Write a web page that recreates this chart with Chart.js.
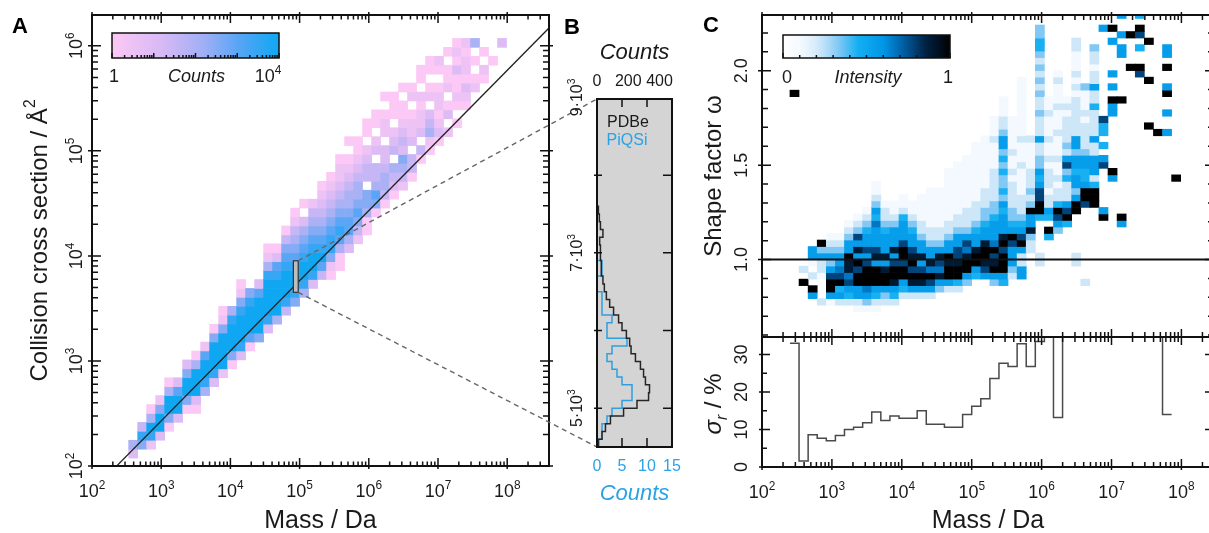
<!DOCTYPE html>
<html>
<head>
<meta charset="utf-8">
<script src="https://cdn.jsdelivr.net/npm/chart.js@4.4.0/dist/chart.umd.min.js"></script>
<style>
  html, body { margin: 0; padding: 0; background: #fff; width: 1209px; height: 533px; overflow: hidden; }
  canvas { position: absolute; left: 0; top: 0; }
</style>
</head>
<body>
<canvas id="chartA" width="1220" height="533"></canvas>
<canvas id="chartB" width="1220" height="533"></canvas>
<canvas id="chartC" width="1220" height="533"></canvas>
<canvas id="chartD" width="1220" height="533"></canvas>
<script>
// ---- Panel A: 2D histogram, log10(CCS / A^2) against log10(mass / Da) ----
var aMassStart = 2.40, aMassStep = 0.13;
var aCcsStart = 1.99, aCcsStep = 0.085;
// first row of each mass column, then count level per row (1 = 1 count ... 9 = 10^4)
var aRowStart = [0,1,2,2,3,4,5,6,6,8,9,10,11,12,13,14,15,16,17,18,19,20,21,21,22,24,25,26,28,29,30,31,32,34,35,36,37,38,40,42,43,45,47];
var aLevels = ['', '35', '684', '28951', '39962', '169951', '39973', '169963', '1399951', '589972',
  '3899961', '29999621', '1699985', '389998621', '1799986', '6999973', '3899998521', '599998731',
  '4899987641', '68998765421', '589987653.1', '3899876542', '47987654321', '126887654321',
  '1157876543221', '35776554321.1', '246765543211', '11566.4432.11', '167544.32.11', '1455433.221.1',
  '1345.432.111', '2456343211.1', '144.3221.21', '14.32212.11', '12543.21.11', '1321221.12',
  '2.31.211.1', '1.12113121', '12312212', '21.1.5', '12.1', '1', '3'];
var fitMassA = [2, 9];
var fitCcsA = [1.762, 6.434];
var zoomMass = [4.91, 4.98];
var zoomCcs = [4500, 8980];

// ---- Panel B: histograms of CCS inside the zoom box ----
var bCcsStart = 4500, bCcsStep = 100;
var pdbeCounts = [10,32,54,86,170,256,330,336,310,298,278,246,218,209,188,160,138,106,81,60,
  47,38,30,26,22,22,17,38,22,15,9,6,5,4,2,2,2,1,1,1,0,0,0,0,0];
var piqsiCounts = [0,1,1,2,3,5,7,7,5,4,3,2,3,6,2,2,3,1,1,1,0,0,1,1,0,0,0,0,0,0,
  0,0,0,0,0,0,0,0,0,0,0,0,0,0,0];
var bCountTicks = [0, 200, 400];
var bBlueTicks = [0, 5, 10, 15];

// ---- Panel C: shape factor map and relative spread ----
var cMassStart = 2.40, cMassStep = 0.13;
var cOmegaStart = 0.586, cOmegaStep = 0.0345;
var cRowStart = [37,8,6,5,5,5,5,4,4,4,5,5,6,6,6,6,7,7,7,8,9,9,8,8,9,9,13,11,15,16,17,11,8,20,18,24,17,41,40,32,31,31,24];
var cLevels = ['9', '9.2', '59.2.155', '2...122539', '15997535321', '25497655321', '2457688955321',
  '125599795857321', '1356999757554321', '12459995875556453211', '2359985855543221',
  '2458997585553211', '2459979975554211', '258979875543211', '2589758553221111',
  '25796855322111111', '3586785322111111', '2599895532211111111', '24998775532211111111',
  '35998675322211111111', '459985543222111111111', '5789985543322211111111',
  '35987965554332222211112111', '45999798555453433434355322111', '2355579543322221211211111',
  '5522597543222111121112111111111', '223855932322211112', '22.....499775453322522232232323234433',
  '49.4522122212112111211', '3579422121121112111211121', '49752224375232222121',
  '22......995355455355222222121211122', '2...........7995445532222121113',
  '9994255522522224225221223', '95......75.4.447.............5', '59........559.5.5....5.9',
  '59.................9......55.5..5', '9....9', '79..4.79.4', '9......9.....9', '9',
  '5..5..95..9.55', '9'];
var omegaRef = [1, 1];
var sigmaR = [33, 1.6, 8.6, 7.7, 7.0, 8.4, 10.0, 10.6, 11.8, 14.7, 12.4, 13.6, 13.0, 13.0, 15.0,
  11.4, 11.4, 10.6, 10.6, 14.0, 16.2, 18.2, 23.6, 27.7, 26.8, 32.9, 26.8, 33.5, 36, 13.2,
  36, 36, 36, 36, 36, 36, 36, 36, 36, 36, 36, 14.0];
var omegaTicks = [1.0, 1.5, 2.0];
var sigmaTicks = [0, 10, 20, 30];

var FONT = '"Liberation Sans", Arial, Helvetica, sans-serif';
var countsMap = [[0,252,200,245],[0.3,215,185,245],[0.55,160,175,245],[0.75,90,165,245],[1,15,167,242]];
var intensityMap = [[0,255,255,255],[0.111,243,249,254],[0.222,205,231,249],[0.333,130,200,245],
  [0.45,20,175,242],[0.6,0,150,230],[0.72,0,95,165],[0.85,0,35,70],[1,0,0,0]];

function colorAt(stops, t) {
  t = Math.max(0, Math.min(1, t));
  for (var i = 1; i < stops.length; i++) {
    if (t <= stops[i][0]) {
      var a = stops[i - 1], b = stops[i], f = (t - a[0]) / (b[0] - a[0]);
      return 'rgb(' + [1, 2, 3].map(function (j) { return Math.round(a[j] + (b[j] - a[j]) * f); }).join(',') + ')';
    }
  }
  var s = stops[stops.length - 1];
  return 'rgb(' + s[1] + ',' + s[2] + ',' + s[3] + ')';
}

// turn the level strings into floating bars (one per cell)
function cells(rowStart, levels, x0, dx, y0, dy) {
  var out = [];
  levels.forEach(function (str, k) {
    for (var i = 0; i < str.length; i++) {
      if (str[i] === '.') continue;
      var r = rowStart[k] + i;
      out.push({ x: x0 + dx * (k + 0.5), y: [y0 + dy * r, y0 + dy * (r + 1)], lvl: +str[i] });
    }
  });
  return out;
}

function rich(ctx, parts, x, y, o) {
  o = o || {};
  var size = o.size || 17;
  ctx.save();
  ctx.translate(x, y);
  if (o.rot) ctx.rotate(-Math.PI / 2);
  ctx.fillStyle = o.color || '#1a1a1a';
  ctx.textBaseline = 'alphabetic';
  ctx.textAlign = 'left';
  var w = 0;
  var ms = parts.map(function (p) {
    var s = typeof p === 'string' ? [p, 1, 0] : p;
    var style = s[3] || ((o.italic ? 'italic ' : '') + (o.bold ? 'bold ' : ''));
    ctx.font = style + (size * s[1]) + 'px ' + FONT;
    var pw = ctx.measureText(s[0]).width;
    w += pw;
    return [s[0], s[1], s[2], style, pw];
  });
  var cx = o.align === 'left' ? 0 : (o.align === 'right' ? -w : -w / 2);
  ms.forEach(function (p) {
    ctx.font = p[3] + (size * p[1]) + 'px ' + FONT;
    ctx.fillText(p[0], cx, size * 0.36 + size * p[2]);
    cx += p[4];
  });
  ctx.restore();
}
function sup(base, exp) { return [base, [String(exp), 0.66, -0.45]]; }

function logTicks(lo, hi) {
  var major = [], minor = [];
  for (var d = Math.floor(lo); d <= Math.ceil(hi); d++) {
    if (d >= lo && d <= hi) major.push(d);
    for (var m = 2; m <= 9; m++) {
      var v = d + Math.log10(m);
      if (v > lo && v < hi) minor.push(v);
    }
  }
  return { major: major, minor: minor };
}

function ticks(ctx, chart, axis, side, values, lin, lout) {
  var a = chart.chartArea, s = chart.scales[axis];
  ctx.save();
  ctx.strokeStyle = '#111';
  ctx.lineWidth = 1.5;
  ctx.beginPath();
  values.forEach(function (v) {
    var p = s.getPixelForValue(v);
    if (side === 'bottom') { ctx.moveTo(p, a.bottom + lout); ctx.lineTo(p, a.bottom - lin); }
    if (side === 'top') { ctx.moveTo(p, a.top - lout); ctx.lineTo(p, a.top + lin); }
    if (side === 'left') { ctx.moveTo(a.left - lout, p); ctx.lineTo(a.left + lin, p); }
    if (side === 'right') { ctx.moveTo(a.right + lout, p); ctx.lineTo(a.right - lin, p); }
  });
  ctx.stroke();
  ctx.restore();
}

function frame(ctx, a) {
  ctx.save();
  ctx.strokeStyle = '#111';
  ctx.lineWidth = 2;
  ctx.strokeRect(a.left, a.top, a.right - a.left, a.bottom - a.top);
  ctx.restore();
}

function colorbar(ctx, stops, x, y, w, h, tickPos) {
  var g = ctx.createLinearGradient(x, 0, x + w, 0);
  for (var i = 0; i <= 20; i++) g.addColorStop(i / 20, colorAt(stops, i / 20));
  ctx.save();
  ctx.fillStyle = g;
  ctx.fillRect(x, y, w, h);
  ctx.strokeStyle = '#111';
  ctx.lineWidth = 1.5;
  ctx.strokeRect(x, y, w, h);
  ctx.beginPath();
  tickPos.forEach(function (t) {
    var len = t[1] ? 5 : 3;
    ctx.moveTo(x + t[0] * w, y + h);
    ctx.lineTo(x + t[0] * w, y + h - len);
  });
  ctx.stroke();
  ctx.restore();
}

var baseOptions = function (pad) {
  return {
    responsive: false,
    animation: false,
    events: [],
    layout: { padding: pad },
    plugins: { legend: { display: false }, tooltip: { enabled: false } }
  };
};

// ---------------- Panel A ----------------
var decoA = {
  id: 'decoA',
  afterDatasetsDraw: function (chart) {
    var ctx = chart.ctx, a = chart.chartArea, sx = chart.scales.x, sy = chart.scales.y;
    var x0 = sx.getPixelForValue(zoomMass[0]), x1 = sx.getPixelForValue(zoomMass[1]);
    var y0 = sy.getPixelForValue(Math.log10(zoomCcs[0])), y1 = sy.getPixelForValue(Math.log10(zoomCcs[1]));
    ctx.save();
    ctx.fillStyle = '#bdbdbd';
    ctx.fillRect(x0, y1, x1 - x0, y0 - y1);
    ctx.strokeStyle = '#333';
    ctx.lineWidth = 1.2;
    ctx.strokeRect(x0, y1, x1 - x0, y0 - y1);
    ctx.restore();
    var tp = [];
    for (var d = 0; d < 4; d++) for (var m = 1; m <= 9; m++) tp.push([(d + Math.log10(m)) / 4, m === 1]);
    tp.push([1, true]);
    var bx = a.left + 20, by = a.top + 18, bw = 167;
    colorbar(ctx, countsMap, bx, by, bw, 25, tp);
    rich(ctx, ['1'], bx + 2, by + 43, { size: 18 });
    rich(ctx, ['Counts'], bx + bw / 2 + 1, by + 43, { size: 18, italic: true });
    rich(ctx, sup('10', 4), bx + bw - 11, by + 43, { size: 18 });
  },
  afterDraw: function (chart) {
    var ctx = chart.ctx, a = chart.chartArea, sx = chart.scales.x, sy = chart.scales.y;
    frame(ctx, a);
    var tx = logTicks(sx.min, sx.max), ty = logTicks(sy.min, sy.max);
    ticks(ctx, chart, 'x', 'bottom', tx.major, 8, 3);
    ticks(ctx, chart, 'x', 'bottom', tx.minor, 4.5, 0);
    ticks(ctx, chart, 'x', 'top', tx.major, 8, 3);
    ticks(ctx, chart, 'x', 'top', tx.minor, 4.5, 0);
    ticks(ctx, chart, 'y', 'left', ty.major, 9, 4);
    ticks(ctx, chart, 'y', 'left', ty.minor, 6, 0);
    ticks(ctx, chart, 'y', 'right', ty.major, 9, 4);
    ticks(ctx, chart, 'y', 'right', ty.minor, 6, 0);
    tx.major.forEach(function (d) { rich(ctx, sup('10', d), sx.getPixelForValue(d), a.bottom + 25, { size: 18 }); });
    ty.major.forEach(function (d) { rich(ctx, sup('10', d), a.left - 16, sy.getPixelForValue(d), { size: 18, rot: true }); });
    rich(ctx, ['Collision cross section / \u00c5', ['2', 0.65, -0.5]], 38, (a.top + a.bottom) / 2, { size: 24, rot: true });
    rich(ctx, ['Mass / Da'], (a.left + a.right) / 2, 519, { size: 25 });
    rich(ctx, ['A'], 20, 25, { size: 22, bold: true, color: '#000' });
  }
};

var chartA = new Chart(document.getElementById('chartA'), {
  type: 'bar',
  data: {
    datasets: [{
      data: cells(aRowStart, aLevels, aMassStart, aMassStep, aCcsStart, aCcsStep),
      backgroundColor: function (c) { return colorAt(countsMap, (c.raw.lvl - 1) / 8); },
      barPercentage: 1,
      categoryPercentage: 1,
      clip: 0,
      order: 2
    }, {
      type: 'line',
      data: fitMassA.map(function (m, i) { return { x: m, y: fitCcsA[i] }; }),
      borderColor: '#222',
      borderWidth: 1.3,
      pointRadius: 0,
      clip: 0,
      order: 1
    }]
  },
  options: Object.assign(baseOptions({ left: 92, top: 15, right: 1220 - 549, bottom: 533 - 466 }), {
    scales: {
      x: { type: 'linear', min: 2, max: 8.604, offset: false, display: false },
      y: { type: 'linear', min: 2, max: 6.293, display: false }
    }
  }),
  plugins: [decoA]
});

// ---------------- Panel B ----------------
function histPath(counts, start, step) {
  var pts = [];
  counts.forEach(function (c, j) {
    pts.push({ x: c, y: start + step * j }, { x: c, y: start + step * (j + 1) });
  });
  return pts;
}

var decoB = {
  id: 'decoB',
  beforeDatasetsDraw: function (chart) {
    var ctx = chart.ctx, a = chart.chartArea;
    var sx = chartA.scales.x, sy = chartA.scales.y;
    var xr = sx.getPixelForValue(zoomMass[1]);
    var yt = sy.getPixelForValue(Math.log10(zoomCcs[1])), yb = sy.getPixelForValue(Math.log10(zoomCcs[0]));
    ctx.save();
    ctx.fillStyle = '#d4d4d4';
    ctx.fillRect(a.left, a.top, a.right - a.left, a.bottom - a.top);
    ctx.setLineDash([5, 4]);
    ctx.strokeStyle = '#666';
    ctx.lineWidth = 1.4;
    ctx.beginPath();
    ctx.moveTo(xr, yt); ctx.lineTo(a.left, a.top);
    ctx.moveTo(xr, yb); ctx.lineTo(a.left, a.bottom);
    ctx.stroke();
    ctx.restore();
  },
  afterDraw: function (chart) {
    var ctx = chart.ctx, a = chart.chartArea, sk = chart.scales.xk, sb = chart.scales.xb, sy = chart.scales.y;
    frame(ctx, a);
    ticks(ctx, chart, 'xb', 'top', [5, 10], 8, 0);
    ticks(ctx, chart, 'xb', 'bottom', [5, 10], 9, 0);
    ticks(ctx, chart, 'y', 'left', [5000, 6000, 7000, 8000], 5, 3);
    ticks(ctx, chart, 'y', 'right', [5000, 6000, 7000, 8000], 9, 0);
    bCountTicks.forEach(function (v) { rich(ctx, [String(v)], sk.getPixelForValue(v), 80, { size: 16 }); });
    bBlueTicks.forEach(function (v) { rich(ctx, [String(v)], sb.getPixelForValue(v), 465, { size: 16, color: '#2aa3e6' }); });
    [9, 7, 5].forEach(function (v) {
      rich(ctx, [v + '\u00b710', ['3', 0.65, -0.45]], 576, sy.getPixelForValue(v * 1000), { size: 16, rot: true });
    });
    rich(ctx, ['Counts'], (a.left + a.right) / 2, 51, { size: 22, italic: true });
    rich(ctx, ['Counts'], (a.left + a.right) / 2, 492, { size: 22, italic: true, color: '#2aa3e6' });
    rich(ctx, ['PDBe'], 628, 121, { size: 16 });
    rich(ctx, ['PiQSi'], 627, 139, { size: 16, color: '#2aa3e6' });
    rich(ctx, ['B'], 572, 26, { size: 22, bold: true, color: '#000' });
  }
};

var chartB = new Chart(document.getElementById('chartB'), {
  type: 'line',
  data: {
    datasets: [{
      data: histPath(pdbeCounts, bCcsStart, bCcsStep),
      xAxisID: 'xk',
      borderColor: '#262626',
      borderWidth: 1.5,
      pointRadius: 0,
      clip: 0
    }, {
      data: histPath(piqsiCounts, bCcsStart, bCcsStep),
      xAxisID: 'xb',
      borderColor: '#2f9fe0',
      borderWidth: 1.5,
      pointRadius: 0,
      clip: 0
    }]
  },
  options: Object.assign(baseOptions({ left: 597, top: 99, right: 1220 - 672, bottom: 533 - 447 }), {
    scales: {
      xk: { type: 'linear', axis: 'x', min: 0, max: 480, display: false },
      xb: { type: 'linear', axis: 'x', min: 0, max: 15, display: false },
      y: { type: 'linear', min: zoomCcs[0], max: zoomCcs[1], display: false }
    }
  }),
  plugins: [decoB]
});

// ---------------- Panel C (top) ----------------
var cLeft = 762, cRight = 1214;
var cMassMax = 2 + (cRight - cLeft) / 69.9;

var decoC = {
  id: 'decoC',
  afterDatasetsDraw: function (chart) {
    var ctx = chart.ctx, a = chart.chartArea;
    var tp = [];
    for (var i = 0; i <= 10; i++) tp.push([i / 10, i === 0 || i === 10]);
    var bx = a.left + 21, by = a.top + 20, bw = 167;
    colorbar(ctx, intensityMap, bx, by, bw, 23, tp);
    rich(ctx, ['0'], bx + 4, by + 42, { size: 18 });
    rich(ctx, ['Intensity'], bx + 85, by + 42, { size: 18, italic: true });
    rich(ctx, ['1'], bx + bw - 2, by + 42, { size: 18 });
  },
  afterDraw: function (chart) {
    var ctx = chart.ctx, a = chart.chartArea, sy = chart.scales.y;
    frame(ctx, a);
    var tx = logTicks(chart.scales.x.min, chart.scales.x.max);
    ticks(ctx, chart, 'x', 'top', tx.major, 8, 3);
    ticks(ctx, chart, 'x', 'top', tx.minor, 5, 0);
    ticks(ctx, chart, 'x', 'bottom', tx.major, 8, 0);
    ticks(ctx, chart, 'x', 'bottom', tx.minor, 5, 0);
    var minor = [];
    for (var v = 6; v <= 22; v++) if (v % 5 !== 0) minor.push(v / 10);
    ticks(ctx, chart, 'y', 'left', minor, 6, 0);
    ticks(ctx, chart, 'y', 'left', omegaTicks, 9, 4);
    ticks(ctx, chart, 'y', 'right', minor, 6, 0);
    ticks(ctx, chart, 'y', 'right', omegaTicks, 9, 4);
    omegaTicks.forEach(function (t) { rich(ctx, [t.toFixed(1)], 741, sy.getPixelForValue(t), { size: 18, rot: true }); });
    rich(ctx, ['Shape factor \u03c9'], 712, (a.top + a.bottom) / 2, { size: 24, rot: true });
    rich(ctx, ['C'], 711, 24, { size: 22, bold: true, color: '#000' });
  }
};

var chartC = new Chart(document.getElementById('chartC'), {
  type: 'bar',
  data: {
    datasets: [{
      data: cells(cRowStart, cLevels, cMassStart, cMassStep, cOmegaStart, cOmegaStep),
      backgroundColor: function (c) { return colorAt(intensityMap, c.raw.lvl / 9); },
      barPercentage: 1,
      categoryPercentage: 1,
      clip: 0,
      order: 2
    }, {
      type: 'line',
      data: [{ x: 2, y: omegaRef[0] }, { x: cMassMax, y: omegaRef[1] }],
      borderColor: '#111',
      borderWidth: 2,
      pointRadius: 0,
      clip: 0,
      order: 1
    }]
  },
  options: Object.assign(baseOptions({ left: cLeft, top: 15, right: 1220 - cRight, bottom: 533 - 337 }), {
    scales: {
      x: { type: 'linear', min: 2, max: cMassMax, offset: false, display: false },
      y: { type: 'linear', min: 0.59, max: 2.295, display: false }
    }
  }),
  plugins: [decoC]
});

// ---------------- Panel C (bottom) ----------------
var decoD = {
  id: 'decoD',
  afterDraw: function (chart) {
    var ctx = chart.ctx, a = chart.chartArea, sx = chart.scales.x, sy = chart.scales.y;
    frame(ctx, a);
    var tx = logTicks(sx.min, sx.max);
    ticks(ctx, chart, 'x', 'bottom', tx.major, 8, 3);
    ticks(ctx, chart, 'x', 'bottom', tx.minor, 5, 0);
    ticks(ctx, chart, 'x', 'top', tx.major, 8, 0);
    ticks(ctx, chart, 'x', 'top', tx.minor, 5, 0);
    ticks(ctx, chart, 'y', 'left', sigmaTicks, 8, 3);
    ticks(ctx, chart, 'y', 'left', [5, 15, 25], 5, 0);
    ticks(ctx, chart, 'y', 'right', sigmaTicks, 9, 0);
    ticks(ctx, chart, 'y', 'right', [5, 15, 25], 5, 0);
    tx.major.forEach(function (d) { rich(ctx, sup('10', d), sx.getPixelForValue(d), a.bottom + 25, { size: 18 }); });
    sigmaTicks.forEach(function (t) { rich(ctx, [String(t)], 741, sy.getPixelForValue(t), { size: 18, rot: true }); });
    rich(ctx, [['\u03c3', 1, 0, 'italic '], ['r', 0.65, 0.25, 'italic '], ' / %'], 712, 404, { size: 24, rot: true });
    rich(ctx, ['Mass / Da'], (a.left + a.right) / 2, 519, { size: 25 });
  }
};

var sigmaPts = sigmaR.map(function (v, j) { return { x: cMassStart + cMassStep * j, y: v }; });
sigmaPts.push({ x: cMassStart + cMassStep * sigmaR.length, y: sigmaR[sigmaR.length - 1] });

var chartD = new Chart(document.getElementById('chartD'), {
  type: 'line',
  data: {
    datasets: [{
      data: sigmaPts,
      stepped: 'before',
      borderColor: '#4a4a4a',
      borderWidth: 1.5,
      pointRadius: 0,
      clip: 0
    }]
  },
  options: Object.assign(baseOptions({ left: cLeft, top: 337, right: 1220 - cRight, bottom: 533 - 467 }), {
    scales: {
      x: { type: 'linear', min: 2, max: cMassMax, display: false },
      y: { type: 'linear', min: 0, max: 34.7, display: false }
    }
  }),
  plugins: [decoD]
});
</script>
</body>
</html>
